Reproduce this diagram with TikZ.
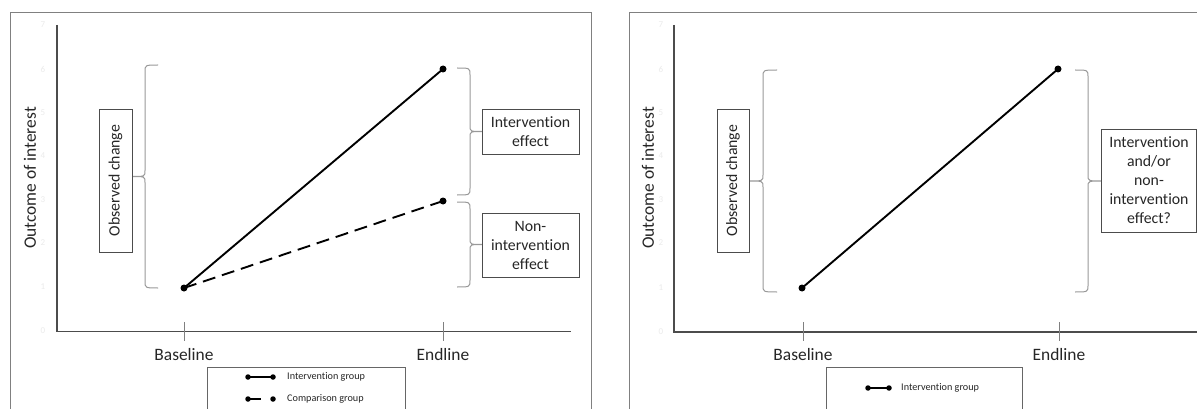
\documentclass[tikz,border=0pt]{standalone}
\usepackage{fontspec}
\setmainfont{Carlito}[Ligatures={NoCommon}]
\usetikzlibrary{calc}

% Curly bracket: x of the two ends, x of the spine, x of the tip, y top, y bottom
\newcommand\curlybrace[5]{%
  \pgfmathsetmacro\bmid{(#4+#5)/2}%
  \draw[brace] (#1,#4) .. controls (#2,#4) .. (#2,#4+7) -- (#2,\bmid-6)
    .. controls (#2,\bmid) .. (#3,\bmid)
    .. controls (#2,\bmid) .. (#2,\bmid+6) -- (#2,#5-7)
    .. controls (#2,#5) .. (#1,#5);}

\begin{document}
\begin{tikzpicture}[x=1pt,y=-1pt,
  frame/.style={draw=black!50, line width=0.9pt},
  axis/.style={draw=black!70, line width=1.2pt},
  tickmark/.style={draw=black!50, line width=0.8pt},
  brace/.style={draw=black!40, line width=1pt},
  labelbox/.style={draw=black!70, line width=0.9pt, fill=white, align=center,
    inner sep=0pt, text=black!85, font=\fontsize{15.8}{19}\selectfont},
  axislabel/.style={text=black!85, font=\fontsize{17.4}{20}\selectfont, inner sep=0pt},
  ticklabel/.style={text=black!8, font=\fontsize{9}{10}\selectfont, inner sep=0pt},
  legendbox/.style={draw=black!60, line width=0.9pt},
  legendtext/.style={text=black!85, font=\fontsize{10.2}{12}\selectfont, inner sep=0pt, anchor=west},
  dot/.style={circle, fill=black, inner sep=0pt, minimum size=7pt},
  smalldot/.style={circle, fill=black, inner sep=0pt, minimum size=5.5pt},
  trend/.style={draw=black, line width=1.9pt},
  trenddash/.style={draw=black, line width=1.9pt, dash pattern=on 13pt off 7pt},
  legline/.style={draw=black, line width=1.6pt}]

\useasboundingbox (0,0) rectangle (1197,409);
\fill[white] (0,0) rectangle (1197,409);
\clip (0,0) rectangle (1197,409);

% ---------- left panel ----------
\draw[frame] (10.5,12) rectangle (591,440);

\coordinate (ltop) at (57,25);
\coordinate (lorig) at (57,331.5);
\coordinate (lright) at (571,331.5);
\draw[axis] (ltop) -- (lorig) -- (lright);
\foreach \v/\yy in {7/25,6/69,5/113,4/156,3/200,2/243,1/287,0/331}
  \node[ticklabel] (lt\v) at (43,\yy) {\v};

\coordinate (lbt1) at (184,322); \coordinate (lbt2) at (184,341);
\coordinate (let1) at (443,322); \coordinate (let2) at (443,341);
\draw[tickmark] (lbt1) -- (lbt2);
\draw[tickmark] (let1) -- (let2);
\node[axislabel] (lbase) at (184,355) {Baseline};
\node[axislabel] (lend) at (443,355) {Endline};
\node[axislabel, rotate=90] (lylab) at (30,178) {Outcome of interest};

\node[dot] (lb) at (184,288) {};
\node[dot] (le1) at (443,69) {};
\node[dot] (le2) at (443,201) {};
\draw[trend] (lb.center) -- (le1.center);
\draw[trenddash] (lb.center) -- (le2.center);

\curlybrace{158}{145}{132}{65}{288}
\node[labelbox, rotate=90, minimum width=143pt, minimum height=33pt] (lobs) at (115.5,180.5) {Observed change};

\curlybrace{457}{470}{482}{68}{195}
\curlybrace{457}{470}{482}{202}{287}
\node[labelbox, minimum width=97pt, minimum height=45pt] (lint) at (530.5,131.5) {Intervention\\effect};
\node[labelbox, minimum width=97pt, minimum height=64pt] (lnon) at (530.5,245) {Non-\\intervention\\effect};

\draw[legendbox] (207,367) rectangle (405,440);
\coordinate (lg1a) at (248,377); \coordinate (lg1b) at (273,377);
\node[smalldot] (lg1d1) at (lg1a) {}; \node[smalldot] (lg1d2) at (lg1b) {};
\draw[legline] (lg1d1.center) -- (lg1d2.center);
\node[legendtext] (lg1t) at (287,377) {Intervention group};
\coordinate (lg2a) at (248,399); \coordinate (lg2b) at (273,399); \coordinate (lg2m) at (261,399);
\node[smalldot] (lg2d1) at (lg2a) {}; \node[smalldot] (lg2d2) at (lg2b) {};
\draw[legline] (lg2d1.center) -- (lg2m);
\node[legendtext] (lg2t) at (287,399) {Comparison group};

% ---------- right panel ----------
\draw[frame] (629.5,12) rectangle (1240,440);

\coordinate (rtop) at (674,25);
\coordinate (rorig) at (674,332);
\coordinate (rright) at (1210,332);
\draw[axis] (rtop) -- (rorig) -- (rright);
\foreach \v/\yy in {7/25,6/69,5/113,4/156,3/200,2/243,1/288,0/332}
  \node[ticklabel] (rt\v) at (661,\yy) {\v};

\coordinate (rbt1) at (803,322); \coordinate (rbt2) at (803,341);
\coordinate (ret1) at (1059,322); \coordinate (ret2) at (1059,341);
\draw[tickmark] (rbt1) -- (rbt2);
\draw[tickmark] (ret1) -- (ret2);
\node[axislabel] (rbase) at (803,355) {Baseline};
\node[axislabel] (rend) at (1059,355) {Endline};
\node[axislabel, rotate=90] (rylab) at (648,178) {Outcome of interest};

\node[dot] (rb) at (802,288) {};
\node[dot] (re) at (1058,69) {};
\draw[trend] (rb.center) -- (re.center);

\curlybrace{777}{763}{749}{70}{292}
\node[labelbox, rotate=90, minimum width=143pt, minimum height=32pt] (robs) at (733,180.5) {Observed change};

\curlybrace{1075}{1088}{1102}{70}{292}
\node[labelbox, minimum width=95pt, minimum height=103pt] (rq) at (1149,180.5)
  {Intervention\\and/or\\non-\\intervention\\effect?};

\draw[legendbox] (826,367) rectangle (1022,440);
\coordinate (rg1a) at (868,388); \coordinate (rg1b) at (889,388);
\node[smalldot] (rg1d1) at (rg1a) {}; \node[smalldot] (rg1d2) at (rg1b) {};
\draw[legline] (rg1d1.center) -- (rg1d2.center);
\node[legendtext] (rg1t) at (901,388) {Intervention group};
\end{tikzpicture}
\end{document}
